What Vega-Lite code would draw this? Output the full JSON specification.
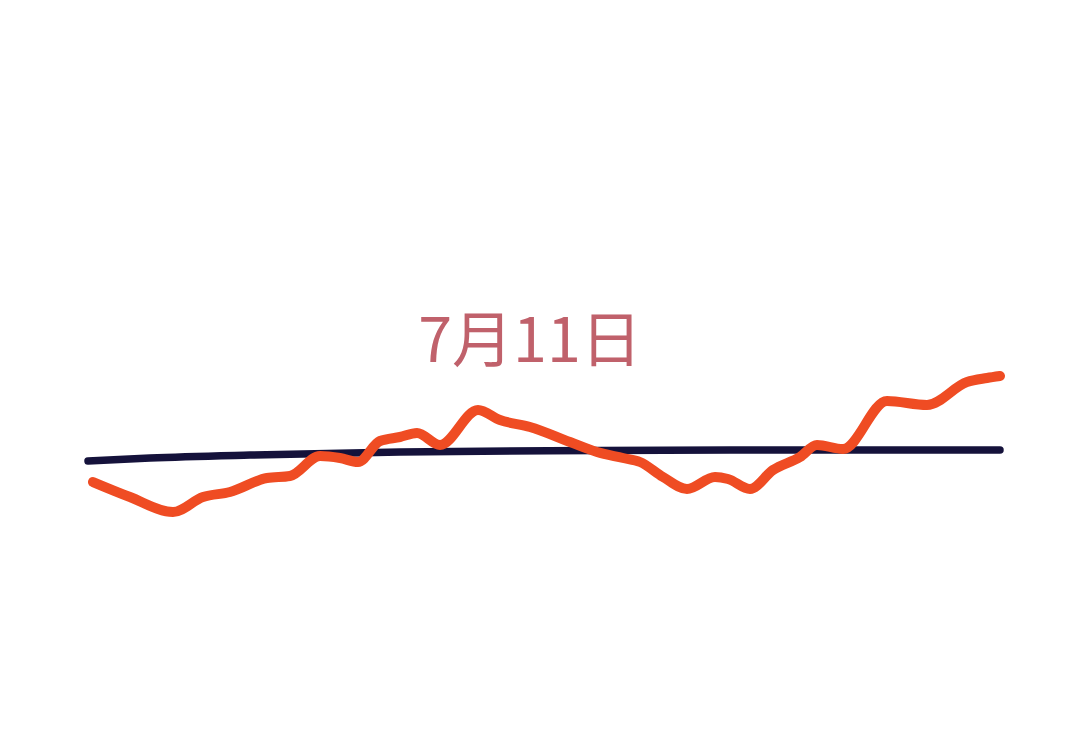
{
  "$schema": "https://vega.github.io/schema/vega-lite/v6.json",
  "autosize": {"type": "fit", "contains": "padding"},
  "width": 1080,
  "height": 755,
  "padding": 0,
  "background": "#ffffff",
  "config": {"view": {"stroke": null}},
  "datasets": {
    "price": [
      {"t": 93, "p": 482}, {"t": 130, "p": 497}, {"t": 173, "p": 512}, {"t": 203, "p": 497},
      {"t": 230, "p": 492}, {"t": 267, "p": 478}, {"t": 290, "p": 476}, {"t": 320, "p": 456},
      {"t": 340, "p": 458}, {"t": 358, "p": 462}, {"t": 380, "p": 441}, {"t": 400, "p": 437},
      {"t": 417, "p": 433}, {"t": 440, "p": 445}, {"t": 478, "p": 410}, {"t": 500, "p": 420},
      {"t": 530, "p": 427}, {"t": 570, "p": 442}, {"t": 597, "p": 452}, {"t": 623, "p": 458},
      {"t": 640, "p": 462}, {"t": 663, "p": 477}, {"t": 687, "p": 489}, {"t": 715, "p": 477},
      {"t": 728, "p": 479}, {"t": 750, "p": 489}, {"t": 773, "p": 470}, {"t": 800, "p": 457},
      {"t": 817, "p": 445}, {"t": 843, "p": 449}, {"t": 887, "p": 401}, {"t": 927, "p": 405},
      {"t": 967, "p": 382}, {"t": 987, "p": 378}, {"t": 1000, "p": 376}
    ],
    "avg": [
      {"t": 88, "p": 461}, {"t": 150, "p": 458}, {"t": 250, "p": 455}, {"t": 400, "p": 452},
      {"t": 600, "p": 450.5}, {"t": 800, "p": 450}, {"t": 1000, "p": 450}
    ],
    "label": [{"t": 530, "p": 344, "text": "7月11日"}]
  },
  "layer": [
    {
      "data": {"name": "avg"},
      "mark": {"type": "line", "color": "#15123b", "strokeWidth": 7.5, "strokeCap": "round", "interpolate": "monotone"},
      "encoding": {
        "x": {"field": "t", "type": "quantitative", "scale": {"domain": [0, 1080]}, "axis": null},
        "y": {"field": "p", "type": "quantitative", "scale": {"domain": [0, 755], "reverse": true}, "axis": null}
      }
    },
    {
      "data": {"name": "price"},
      "mark": {"type": "line", "color": "#ef4c23", "strokeWidth": 10, "strokeCap": "round", "strokeJoin": "round", "interpolate": "monotone"},
      "encoding": {
        "x": {"field": "t", "type": "quantitative", "scale": {"domain": [0, 1080]}, "axis": null},
        "y": {"field": "p", "type": "quantitative", "scale": {"domain": [0, 755], "reverse": true}, "axis": null}
      }
    },
    {
      "data": {"name": "label"},
      "mark": {"type": "text", "color": "#c0616b", "fontSize": 61, "font": "Noto Sans CJK SC", "baseline": "middle", "align": "center"},
      "encoding": {
        "x": {"field": "t", "type": "quantitative", "scale": {"domain": [0, 1080]}, "axis": null},
        "y": {"field": "p", "type": "quantitative", "scale": {"domain": [0, 755], "reverse": true}, "axis": null},
        "text": {"field": "text"}
      }
    }
  ]
}
